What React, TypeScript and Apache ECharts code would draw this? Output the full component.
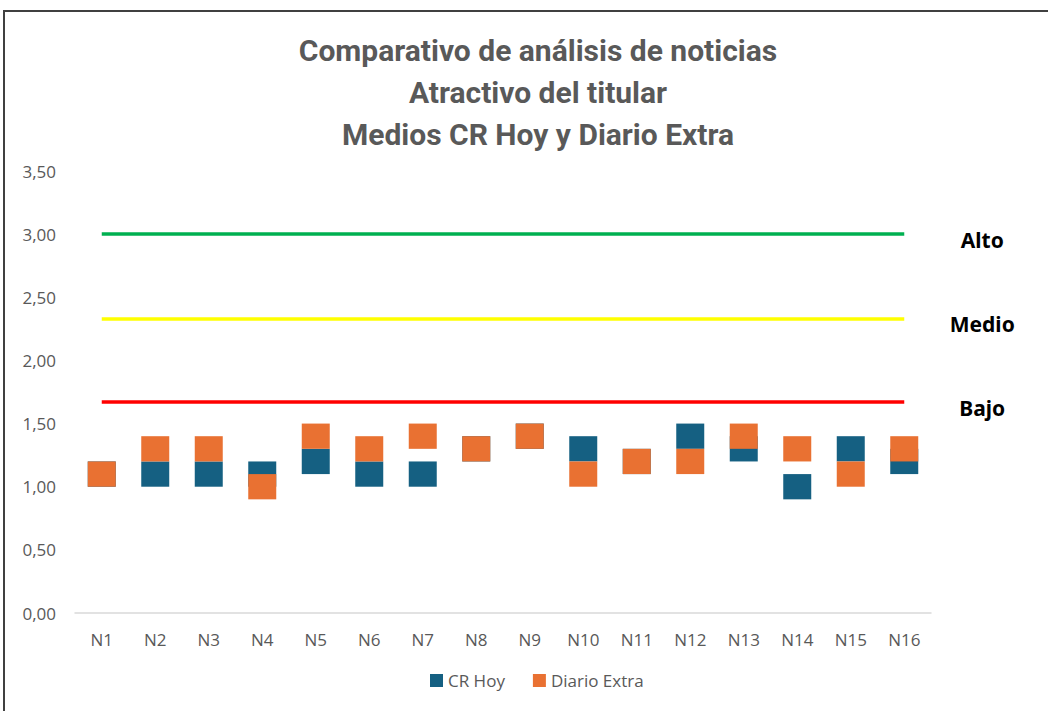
import React, { useEffect, useRef } from "react";
import * as echarts from "echarts";

const categories = ["N1","N2","N3","N4","N5","N6","N7","N8","N9","N10","N11","N12","N13","N14","N15","N16"];
const crHoyLow =  [1.0,1.0,1.0,1.0,1.1,1.0,1.0,1.2,1.3,1.2,1.1,1.3,1.2,0.9,1.2,1.1];
const crHoyHigh = [1.2,1.2,1.2,1.2,1.3,1.2,1.2,1.4,1.5,1.4,1.3,1.5,1.4,1.1,1.4,1.3];
const extraLow =  [1.0,1.2,1.2,0.9,1.3,1.2,1.3,1.2,1.3,1.0,1.1,1.1,1.3,1.2,1.0,1.2];
const extraHigh = [1.2,1.4,1.4,1.1,1.5,1.4,1.5,1.4,1.5,1.2,1.3,1.3,1.5,1.4,1.2,1.4];
const thresholds = [
  { name: "Alto", value: 3.0, color: "#00B050" },
  { name: "Medio", value: 2.33, color: "#FFFF00" },
  { name: "Bajo", value: 1.67, color: "#FF0000" },
];
const titleLines = ["Comparativo de análisis de noticias", "Atractivo del titular", "Medios CR Hoy y Diario Extra"];

export default function App() {
  const ref = useRef<HTMLDivElement>(null);
  useEffect(() => {
    if (!ref.current) return;
    const chart = echarts.init(ref.current, null, { renderer: "svg" });
    const diff = (hi: number[], lo: number[]) => hi.map((h, i) => +(h - lo[i]).toFixed(4));
    const axisFont = { color: "#595959", fontSize: 17, fontFamily: "Open Sans" };
    chart.setOption({
      animation: false,
      backgroundColor: "transparent",
      title: {
        text: titleLines.join("\n"),
        left: 533,
        textAlign: "center",
        top: 24,
        textStyle: {
          color: "#595959",
          fontSize: 30,
          fontWeight: "bold",
          fontFamily: "Liberation Sans Narrow, Roboto",
          lineHeight: 42,
        },
      },
      legend: {
        data: ["CR Hoy", "Diario Extra"],
        bottom: 17,
        left: 425,
        itemWidth: 13,
        itemHeight: 13,
        itemGap: 28,
        icon: "rect",
        textStyle: { color: "#595959", fontSize: 17, fontFamily: "Open Sans" },
      },
      grid: { left: 75, right: 117, top: 171, bottom: 98, containLabel: false },
      xAxis: {
        type: "category",
        data: categories,
        axisLine: { lineStyle: { color: "#D9D9D9", width: 1.5 } },
        axisTick: { show: false },
        axisLabel: { ...axisFont, margin: 18 },
      },
      yAxis: {
        type: "value",
        min: 0,
        max: 3.5,
        interval: 0.5,
        splitLine: { show: false },
        axisLine: { show: false },
        axisTick: { show: false },
        axisLabel: { ...axisFont, margin: 19, formatter: (v: number) => v.toFixed(2).replace(".", ",") },
      },
      series: [
        {
          name: "crBase", type: "bar", stack: "b", data: crHoyLow, barWidth: 28, barGap: "-100%",
          itemStyle: { color: "transparent" }, silent: true,
        },
        {
          name: "CR Hoy", type: "bar", stack: "b", data: diff(crHoyHigh, crHoyLow), barWidth: 28,
          itemStyle: { color: "#156082" },
        },
        {
          name: "exBase", type: "bar", stack: "o", data: extraLow, barWidth: 28, barGap: "-100%",
          itemStyle: { color: "transparent" }, silent: true,
        },
        {
          name: "Diario Extra", type: "bar", stack: "o", data: diff(extraHigh, extraLow), barWidth: 28,
          itemStyle: { color: "#E97132" },
        },
        {
          name: "thresholds", type: "line", data: [],
          markLine: {
            silent: true,
            symbol: ["none", "none"],
            data: thresholds.map((t) => [
              {
                coord: [categories[0], t.value],
                lineStyle: { color: t.color, width: 3.5, type: "solid" },
                label: {
                  show: true,
                  position: "end",
                  formatter: "{a|" + t.name + "}",
                  distance: [38, 0],
                  padding: [11, 0, 0, 0],
                  rich: {
                    a: {
                      width: 80,
                      align: "center",
                      color: "#000000",
                      fontSize: 21,
                      fontWeight: "bold",
                      fontFamily: "Noto Sans",
                    },
                  },
                },
              },
              { coord: [categories[categories.length - 1], t.value] },
            ]),
          },
        },
      ],
    });
    return () => chart.dispose();
  }, []);
  return (
    <div style={{ position: "fixed", left: 0, top: 0, width: 1048, height: 711, background: "#fff", overflow: "hidden" }}>
      <div style={{ position: "absolute", left: 3, top: 10, width: 1200, height: 900, border: "2px solid #404040" }} />
      <div ref={ref} style={{ position: "absolute", left: 0, top: 0, width: 1048, height: 711 }} />
    </div>
  );
}
